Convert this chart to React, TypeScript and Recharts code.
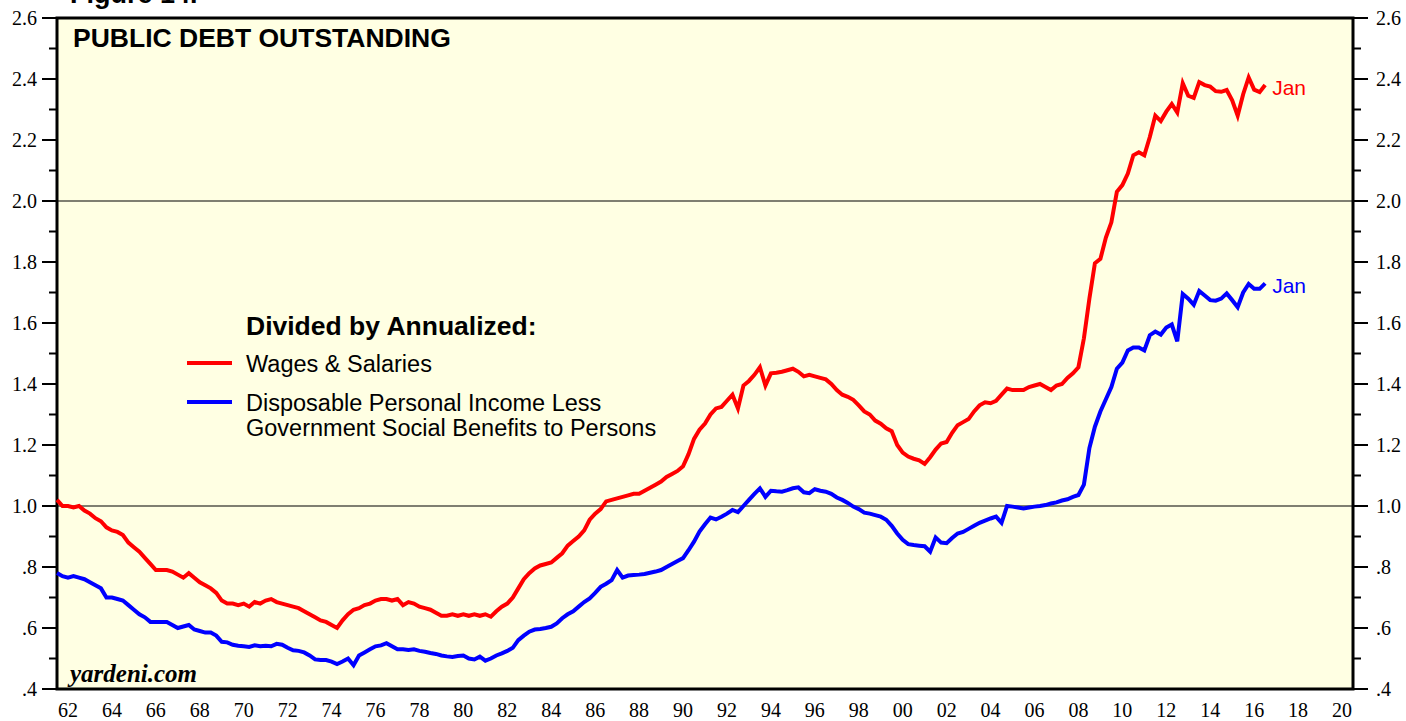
import { LineChart, Line, XAxis, YAxis, ReferenceArea, ReferenceLine, Legend } from 'recharts'

const RED = '#ff0000'
const BLUE = '#0000ff'
const PLOT_BG = '#ffffe3'
const SERIF = '"Liberation Serif", "Times New Roman", serif'
const SANS = '"Liberation Sans", Arial, Helvetica, sans-serif'

// quarterly readings, Q1 1962 through Jan 2017
const quarters = Array.from({ length: 221 }, (_, i) => 1962 + i / 4)

// public debt / annualized wages & salaries
const wagesRatio = [
  1.02, 1.0, 1.0, 0.995, 1.0, 0.985, 0.975, 0.96, 0.95, 0.93, 0.92, 0.915,
  0.905, 0.88, 0.865, 0.85, 0.83, 0.81, 0.79, 0.79, 0.79, 0.785, 0.775, 0.765,
  0.78, 0.765, 0.75, 0.74, 0.73, 0.715, 0.69, 0.68, 0.68, 0.675, 0.68, 0.67,
  0.685, 0.68, 0.69, 0.695, 0.685, 0.68, 0.675, 0.67, 0.665, 0.655, 0.645, 0.635,
  0.625, 0.62, 0.61, 0.6, 0.625, 0.645, 0.66, 0.665, 0.675, 0.68, 0.69, 0.695,
  0.695, 0.69, 0.695, 0.675, 0.685, 0.68, 0.67, 0.665, 0.66, 0.65, 0.64, 0.64,
  0.645, 0.64, 0.645, 0.64, 0.645, 0.64, 0.645, 0.637, 0.655, 0.67, 0.68, 0.7,
  0.73, 0.76, 0.78, 0.795, 0.805, 0.81, 0.815, 0.83, 0.845, 0.87, 0.885, 0.9,
  0.92, 0.955, 0.975, 0.99, 1.015, 1.02, 1.025, 1.03, 1.035, 1.04, 1.04, 1.05,
  1.06, 1.07, 1.08, 1.095, 1.105, 1.115, 1.13, 1.17, 1.22, 1.25, 1.27, 1.3,
  1.32, 1.325, 1.345, 1.365, 1.32, 1.395, 1.41, 1.43, 1.455, 1.395, 1.435, 1.437,
  1.44, 1.445, 1.45, 1.44, 1.425, 1.43, 1.425, 1.42, 1.415, 1.4, 1.38, 1.365,
  1.358, 1.348, 1.33, 1.31, 1.3, 1.28, 1.27, 1.255, 1.245, 1.2, 1.175, 1.162,
  1.155, 1.15, 1.138, 1.16, 1.185, 1.205, 1.21, 1.24, 1.265, 1.275, 1.285, 1.31,
  1.33, 1.34, 1.337, 1.345, 1.365, 1.385, 1.38, 1.38, 1.38, 1.39, 1.395, 1.4,
  1.39, 1.38, 1.395, 1.4, 1.42, 1.435, 1.455, 1.55, 1.68, 1.796, 1.81, 1.88,
  1.93, 2.03, 2.052, 2.09, 2.15, 2.16, 2.15, 2.21, 2.28, 2.262, 2.293, 2.318,
  2.29, 2.386, 2.345, 2.338, 2.39, 2.38, 2.375, 2.36, 2.358, 2.364, 2.33, 2.28,
  2.35, 2.405, 2.365, 2.357, 2.38,
]

// public debt / disposable personal income less government social benefits
const dpiRatio = [
  0.78, 0.77, 0.765, 0.77, 0.765, 0.76, 0.75, 0.74, 0.73, 0.7, 0.7, 0.695,
  0.69, 0.675, 0.66, 0.645, 0.635, 0.62, 0.62, 0.62, 0.62, 0.61, 0.6, 0.605,
  0.61, 0.595, 0.59, 0.585, 0.585, 0.575, 0.555, 0.553, 0.545, 0.542, 0.54, 0.538,
  0.543, 0.54, 0.542, 0.54, 0.548, 0.545, 0.535, 0.527, 0.525, 0.52, 0.51, 0.497,
  0.495, 0.495, 0.49, 0.482, 0.49, 0.5, 0.478, 0.51, 0.52, 0.53, 0.54, 0.543,
  0.55, 0.54, 0.53, 0.53, 0.528, 0.53, 0.525, 0.522, 0.518, 0.515, 0.51, 0.507,
  0.505, 0.508, 0.51, 0.5, 0.497, 0.506, 0.493, 0.5, 0.51, 0.517, 0.525, 0.535,
  0.56, 0.575, 0.588, 0.595, 0.597, 0.6, 0.604, 0.615, 0.632, 0.645, 0.655, 0.67,
  0.685, 0.697, 0.715, 0.735, 0.745, 0.757, 0.79, 0.765, 0.772, 0.774, 0.775, 0.777,
  0.781, 0.785, 0.79, 0.8, 0.81, 0.82, 0.829, 0.855, 0.883, 0.916, 0.94, 0.962,
  0.956, 0.965, 0.975, 0.987, 0.98, 1.0, 1.02, 1.04, 1.058, 1.03, 1.05, 1.048,
  1.047, 1.052, 1.058, 1.061, 1.045, 1.042, 1.055, 1.05, 1.047, 1.04, 1.028, 1.02,
  1.01, 0.998, 0.99, 0.978, 0.975, 0.97, 0.965, 0.955, 0.935, 0.91, 0.889, 0.875,
  0.872, 0.87, 0.868, 0.85, 0.897, 0.88, 0.878, 0.895, 0.91, 0.915, 0.925, 0.935,
  0.945, 0.952, 0.959, 0.965, 0.945, 1.0, 0.998, 0.995, 0.992, 0.995, 0.998, 1.0,
  1.003, 1.008, 1.012, 1.018, 1.022, 1.03, 1.036, 1.07, 1.19, 1.26, 1.31, 1.35,
  1.39, 1.45, 1.47, 1.51, 1.52, 1.52, 1.51, 1.56, 1.572, 1.562, 1.585, 1.595,
  1.54, 1.695, 1.68, 1.66, 1.705, 1.69, 1.675, 1.673, 1.68, 1.697, 1.675, 1.652,
  1.7, 1.728, 1.712, 1.712, 1.73,
]

const yearTicks = Array.from({ length: 60 }, (_, i) => 1962 + i)
const yearLabelTicks = Array.from({ length: 30 }, (_, i) => 1962.5 + i * 2)
const valueTicks = [
  0.4, 0.5, 0.6, 0.7, 0.8, 0.9, 1.0, 1.1, 1.2, 1.3, 1.4, 1.5,
  1.6, 1.7, 1.8, 1.9, 2.0, 2.1, 2.2, 2.3, 2.4, 2.5, 2.6,
]

const WAGES = 'Wages & Salaries'
const DPI = 'Disposable Personal Income Less\nGovernment Social Benefits to Persons'
const legendOrder = ['wages', 'dpi']

const data = quarters.map((year, i) => ({
  year,
  wages: wagesRatio[i],
  dpi: dpiRatio[i],
}))

const fmtValue = (v: number) => (v >= 1 ? v.toFixed(1) : v.toFixed(1).slice(1))
const fmtYear = (v: number) => String(Math.floor(v) % 100).padStart(2, '0')

function ValueTick({ x, y, payload, side }: any) {
  const major = Math.round(payload.value * 10) % 2 === 0
  const len = major ? 15 : 8
  const dir = side === 'left' ? -1 : 1
  return (
    <g>
      <line x1={x} x2={x + dir * len} y1={y} y2={y} stroke="#000" strokeWidth={2} />
      {major && (
        <text
          x={x + dir * (side === 'left' ? 20 : 23)}
          y={y}
          dy={7}
          textAnchor={side === 'left' ? 'end' : 'start'}
          fontFamily={SERIF}
          fontSize={20}
          fill="#000"
        >
          {fmtValue(payload.value)}
        </text>
      )}
    </g>
  )
}

function JanLabel(color: string, lastIndex: number) {
  return (props: any) => {
    if (props.index !== lastIndex) return <g />
    return (
      <text x={props.x + 7} y={props.y + 10} fontFamily={SANS} fontSize={21} fill={color}>
        Jan
      </text>
    )
  }
}

function LegendBox({ payload }: any) {
  const rows = (payload || [])
    .slice()
    .sort((a: any, b: any) => legendOrder.indexOf(a.dataKey) - legendOrder.indexOf(b.dataKey))
  return (
    <svg width={560} height={150} style={{ display: 'block' }}>
      <text x={66} y={30} fontFamily={SANS} fontWeight="bold" fontSize={26.5} fill="#000">
        Divided by Annualized:
      </text>
      {rows.map((entry: any, i: number) => {
        const lines = String(entry.value).split('\n')
        const top = i === 0 ? 58 : 97
        return (
          <g key={entry.dataKey}>
            <line x1={7} x2={52} y1={top} y2={top} stroke={entry.color} strokeWidth={4} />
            {lines.map((t: string, j: number) => (
              <text key={t} x={66} y={top + 9 + j * 25} fontFamily={SANS} fontSize={23.5} fill="#000">
                {t}
              </text>
            ))}
          </g>
        )
      })}
    </svg>
  )
}

export default function App() {
  const last = data.length - 1
  return (
    <div style={{ position: 'absolute', left: 0, top: 0, width: 1406, height: 721, background: '#fff' }}>
      <LineChart
        width={1406}
        height={721}
        data={data}
        margin={{ top: 18, right: 3, bottom: 0, left: 7 }}
      >
        <XAxis
          xAxisId="yr"
          dataKey="year"
          type="number"
          domain={[1962, 2021]}
          ticks={yearTicks}
          interval={0}
          height={0}
          tick={false}
          tickSize={8}
          tickLine={{ stroke: '#000', strokeWidth: 2 }}
          axisLine={false}
        />
        <XAxis
          xAxisId="lab"
          dataKey="year"
          type="number"
          domain={[1962, 2021]}
          ticks={yearLabelTicks}
          interval={0}
          height={32}
          tickSize={0}
          tickMargin={14}
          tickLine={false}
          axisLine={false}
          tickFormatter={fmtYear}
          tick={{ fontFamily: SERIF, fontSize: 20, fill: '#000' }}
        />
        <YAxis
          yAxisId="l"
          orientation="left"
          width={50}
          domain={[0.4, 2.6]}
          ticks={valueTicks}
          interval={0}
          tickSize={0}
          tickMargin={0}
          tickLine={false}
          axisLine={false}
          tick={<ValueTick side="left" />}
        />
        <YAxis
          yAxisId="r"
          orientation="right"
          width={50}
          domain={[0.4, 2.6]}
          ticks={valueTicks}
          interval={0}
          tickSize={0}
          tickMargin={0}
          tickLine={false}
          axisLine={false}
          tick={<ValueTick side="right" />}
        />
        <ReferenceArea
          xAxisId="yr"
          yAxisId="l"
          x1={1962}
          x2={2021}
          y1={0.4}
          y2={2.6}
          fill={PLOT_BG}
          fillOpacity={1}
          stroke="#000"
          strokeWidth={3}
        />
        <ReferenceLine xAxisId="yr" yAxisId="l" y={1} stroke="#000" strokeWidth={1.2} />
        <ReferenceLine xAxisId="yr" yAxisId="l" y={2} stroke="#000" strokeWidth={1.2} />
        <Legend
          layout="horizontal"
          verticalAlign="middle"
          align="center"
          wrapperStyle={{ left: 180, top: 305, width: 560, height: 150 }}
          content={<LegendBox />}
        />
        <Line
          xAxisId="yr"
          yAxisId="r"
          type="linear"
          dataKey="dpi"
          name={DPI}
          stroke={BLUE}
          strokeWidth={4}
          dot={false}
          isAnimationActive={false}
          label={JanLabel(BLUE, last)}
        />
        <Line
          xAxisId="yr"
          yAxisId="l"
          type="linear"
          dataKey="wages"
          name={WAGES}
          stroke={RED}
          strokeWidth={4}
          dot={false}
          isAnimationActive={false}
          label={JanLabel(RED, last)}
        />
      </LineChart>
      <svg
        width={1406}
        height={721}
        style={{ position: 'absolute', left: 0, top: 0, pointerEvents: 'none' }}
      >
        <text x={70} y={3} fontFamily={SANS} fontWeight="bold" fontSize={27} fill="#000">
          Figure 14.
        </text>
        <text x={73} y={47} fontFamily={SANS} fontWeight="bold" fontSize={26.5} fill="#000">
          PUBLIC DEBT OUTSTANDING
        </text>
        <text
          x={70}
          y={682}
          fontFamily={SERIF}
          fontWeight="bold"
          fontStyle="italic"
          fontSize={25}
          fill="#000"
        >
          yardeni.com
        </text>
      </svg>
    </div>
  )
}
